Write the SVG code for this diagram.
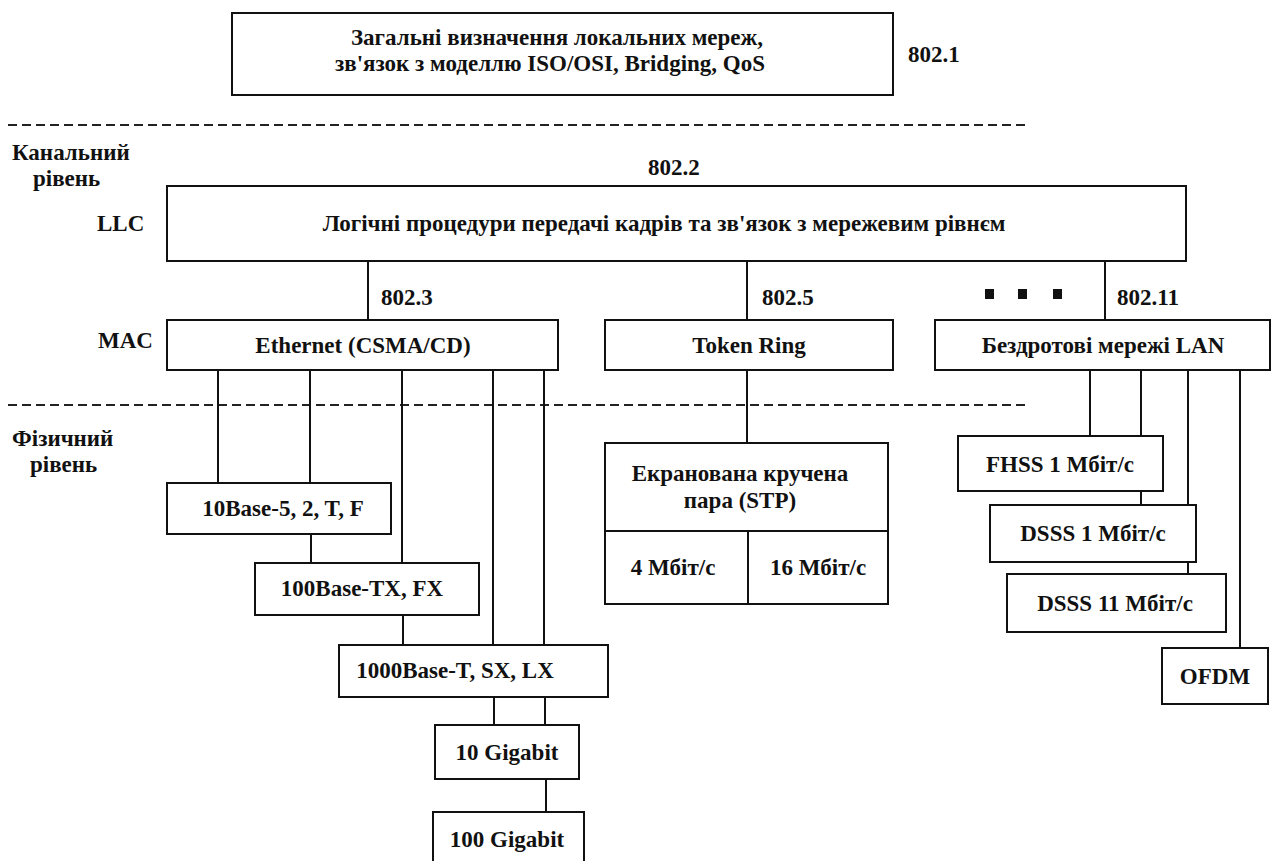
<svg xmlns="http://www.w3.org/2000/svg" width="1272" height="861" viewBox="0 0 1272 861" font-family="'Liberation Serif', 'Times New Roman', serif">
  <style>
    .box { fill: #ffffff; stroke: #111111; stroke-width: 2; }
    .ln { stroke: #111111; stroke-width: 2; fill: none; }
    .dash { stroke: #222222; stroke-width: 2; stroke-dasharray: 9 5; fill: none; }
    text { font-family: 'Liberation Serif', 'Times New Roman', serif; font-weight: 700; font-size: 23px; fill: #111111; }
    .c { text-anchor: middle; }
    .dot { fill: #111111; }
  </style>
  <rect width="1272" height="861" fill="#ffffff"/>

  <!-- layer separators -->
  <line class="dash" x1="8" y1="125" x2="1025" y2="125"/>
  <line class="dash" x1="8" y1="405" x2="1025" y2="405"/>

  <!-- side labels -->
  <g id="layer-labels">
    <text x="12" y="160">Канальний</text>
    <text x="33" y="186">рівень</text>
    <text x="97" y="231">LLC</text>
    <text x="98" y="348">MAC</text>
    <text x="12" y="446">Фізичний</text>
    <text x="30" y="472">рівень</text>
  </g>

  <!-- connectors -->
  <g id="connectors">
    <line class="ln" x1="368" y1="261" x2="368" y2="320"/>
    <line class="ln" x1="747" y1="261" x2="747" y2="320"/>
    <line class="ln" x1="1105" y1="261" x2="1105" y2="320"/>
    <!-- Ethernet to physical variants -->
    <line class="ln" x1="218" y1="370" x2="218" y2="483"/>
    <line class="ln" x1="310" y1="370" x2="310" y2="483"/>
    <line class="ln" x1="402" y1="370" x2="402" y2="563"/>
    <line class="ln" x1="493" y1="370" x2="493" y2="645"/>
    <line class="ln" x1="544" y1="370" x2="544" y2="645"/>
    <line class="ln" x1="311" y1="534" x2="311" y2="563"/>
    <line class="ln" x1="403" y1="615" x2="403" y2="645"/>
    <line class="ln" x1="494" y1="697" x2="494" y2="725"/>
    <line class="ln" x1="545" y1="697" x2="545" y2="725"/>
    <line class="ln" x1="546" y1="779" x2="546" y2="812"/>
    <!-- Token Ring to STP -->
    <line class="ln" x1="747" y1="370" x2="747" y2="443"/>
    <!-- wireless variants -->
    <line class="ln" x1="1090" y1="370" x2="1090" y2="436"/>
    <line class="ln" x1="1141" y1="370" x2="1141" y2="505"/>
    <line class="ln" x1="1188" y1="370" x2="1188" y2="574"/>
    <line class="ln" x1="1240" y1="370" x2="1240" y2="648"/>
  </g>

  <g id="n-8021">
    <rect class="box" x="232" y="13" width="661" height="82"/>
    <text class="c" x="557" y="45">Загальні визначення локальних мереж,</text>
    <text class="c" x="550" y="71">зв'язок з моделлю ISO/OSI, Bridging, QoS</text>
    <text x="908" y="62">802.1</text>
  </g>

  <g id="n-llc">
    <text x="648" y="175">802.2</text>
    <rect class="box" x="167" y="186" width="1019" height="75"/>
    <text class="c" x="664" y="231">Логічні процедури передачі кадрів та зв'язок з мережевим рівнєм</text>
  </g>

  <g id="n-ethernet">
    <text x="381" y="305">802.3</text>
    <rect class="box" x="167" y="320" width="391" height="50"/>
    <text class="c" x="363" y="353">Ethernet (CSMA/CD)</text>
  </g>

  <g id="n-tokenring">
    <text x="762" y="305">802.5</text>
    <rect class="box" x="605" y="320" width="288" height="50"/>
    <text class="c" x="749" y="353">Token Ring</text>
  </g>

  <g id="n-dots">
    <rect class="dot" x="985" y="289" width="9" height="10"/>
    <rect class="dot" x="1018" y="289" width="9" height="10"/>
    <rect class="dot" x="1053" y="289" width="9" height="10"/>
  </g>

  <g id="n-wireless">
    <text x="1117" y="305">802.11</text>
    <rect class="box" x="935" y="320" width="335" height="50"/>
    <text class="c" x="1103" y="353">Бездротові мережі LAN</text>
  </g>

  <g id="n-10base">
    <rect class="box" x="167" y="483" width="224" height="51"/>
    <text class="c" x="283" y="516">10Base-5, 2, T, F</text>
  </g>
  <g id="n-100base">
    <rect class="box" x="255" y="563" width="224" height="52"/>
    <text class="c" x="362" y="596">100Base-TX, FX</text>
  </g>
  <g id="n-1000base">
    <rect class="box" x="339" y="645" width="269" height="52"/>
    <text class="c" x="455" y="678">1000Base-T, SX, LX</text>
  </g>
  <g id="n-10g">
    <rect class="box" x="435" y="725" width="144" height="54"/>
    <text class="c" x="507" y="760">10 Gigabit</text>
  </g>
  <g id="n-100g">
    <rect class="box" x="433" y="812" width="151" height="60"/>
    <text class="c" x="507" y="847">100 Gigabit</text>
  </g>

  <g id="n-stp">
    <rect class="box" x="605" y="443" width="283" height="161"/>
    <line class="ln" x1="605" y1="531" x2="888" y2="531"/>
    <line class="ln" x1="748" y1="531" x2="748" y2="604"/>
    <text class="c" x="740" y="481">Екранована кручена</text>
    <text class="c" x="740" y="508">пара (STP)</text>
    <text class="c" x="673" y="575">4 Мбіт/с</text>
    <text class="c" x="818" y="575">16 Мбіт/с</text>
  </g>

  <g id="n-fhss">
    <rect class="box" x="958" y="436" width="205" height="55"/>
    <text class="c" x="1060" y="472">FHSS 1 Мбіт/с</text>
  </g>
  <g id="n-dsss1">
    <rect class="box" x="990" y="505" width="206" height="57"/>
    <text class="c" x="1093" y="541">DSSS 1 Мбіт/с</text>
  </g>
  <g id="n-dsss11">
    <rect class="box" x="1007" y="574" width="219" height="58"/>
    <text class="c" x="1115" y="611">DSSS 11 Мбіт/с</text>
  </g>
  <g id="n-ofdm">
    <rect class="box" x="1162" y="648" width="106" height="56"/>
    <text class="c" x="1215" y="684">OFDM</text>
  </g>
</svg>
